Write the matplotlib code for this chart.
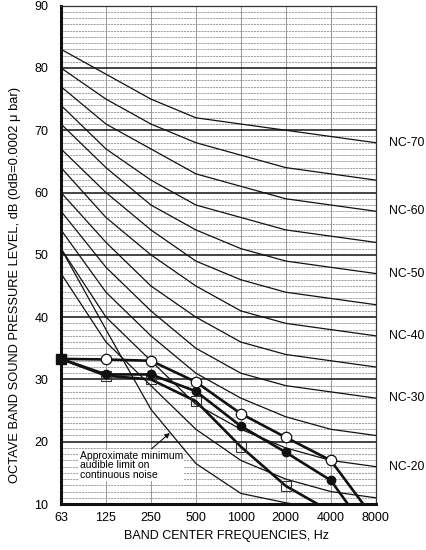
import matplotlib
matplotlib.use("Agg")
import matplotlib.pyplot as plt
import numpy as np

plt.rcParams['font.family'] = ['Liberation Sans', 'DejaVu Sans']

freqs = ["63", "125", "250", "500", "1000", "2000", "4000", "8000"]

nc_levels = [15, 20, 25, 30, 35, 40, 45, 50, 55, 60, 65, 70]
nc_curves = {
    15: [47, 36, 29, 22, 17, 14, 12, 11],
    20: [51, 40, 33, 26, 22, 19, 17, 16],
    25: [54, 44, 37, 31, 27, 24, 22, 21],
    30: [57, 48, 41, 35, 31, 29, 28, 27],
    35: [60, 52, 45, 40, 36, 34, 33, 32],
    40: [64, 56, 50, 45, 41, 39, 38, 37],
    45: [67, 60, 54, 49, 46, 44, 43, 42],
    50: [71, 64, 58, 54, 51, 49, 48, 47],
    55: [74, 67, 62, 58, 56, 54, 53, 52],
    60: [77, 71, 67, 63, 61, 59, 58, 57],
    65: [80, 75, 71, 68, 66, 64, 63, 62],
    70: [83, 79, 75, 72, 71, 70, 69, 68],
}
nc_labeled = [70, 60, 50, 40, 30, 20]

min_audible = [51, 38, 25.2, 16.5, 11.7, 10.2, 9.0, 9.0]

series_open_circle = [33.3, 33.2, 33.0, 29.6, 24.5, 20.7, 17.0, 7.3]
series_filled_circle = [33.3, 30.8, 30.8, 28.1, 22.5, 18.3, 13.8, 3.8]
series_open_square = [33.3, 30.6, 30.0, 26.5, 19.2, 12.9, 8.8, 4.0]

fig = plt.figure(figsize=(4.27, 5.5), dpi=100)
ax = fig.add_axes([0.1429, 0.0836, 0.7370, 0.9061])

x = np.arange(len(freqs))

# grid
for v in range(11, 90):
    if v % 10 != 0:
        ax.axhline(v, color='#909090', lw=0.6, ls=(0, (2.5, 1)), zorder=1)
for v in range(20, 90, 10):
    ax.axhline(v, color='#111111', lw=1.1, zorder=1.5)
for xi in x[1:-1]:
    ax.axvline(xi, color='#888888', lw=0.6, zorder=1.2)

for lev in nc_levels:
    ax.plot(x, nc_curves[lev], color='#111111', lw=0.9, zorder=2)

ax.plot(x, min_audible, color='#111111', lw=0.9, zorder=2)

ax.plot(x, series_open_square, color='#111111', lw=1.9, zorder=3)
ax.plot(x[1:], series_open_square[1:], ls='none', marker='s', ms=6.5,
        mfc='none', mec='#333333', mew=0.8, zorder=3.5)
ax.plot(x, series_filled_circle, color='#111111', lw=1.9, zorder=4,
        marker='o', ms=6, mfc='#111111', mec='#111111', markevery=list(range(1, 8)))
ax.plot(x, series_open_circle, color='#111111', lw=1.9, zorder=5,
        marker='o', ms=7.5, mfc='white', mec='#111111', mew=0.9, markevery=list(range(1, 8)))
ax.plot(x[:1], series_open_square[:1], ls='none', marker='s', ms=7,
        mfc='#111111', mec='#111111', zorder=6, clip_on=False)

ax.set_xlim(0, 7)
ax.set_ylim(10, 90)
ax.set_xticks(x)
ax.set_xticklabels(freqs, fontsize=9)
ax.set_yticks(range(10, 91, 10))
ax.tick_params(axis='y', labelsize=9, length=0, pad=9)
ax.tick_params(axis='x', length=0, pad=6)

for s in ['left', 'bottom']:
    ax.spines[s].set_linewidth(2.2)
    ax.spines[s].set_color('#111111')
for s in ['top', 'right']:
    ax.spines[s].set_linewidth(0.9)
    ax.spines[s].set_color('#333333')

for lev in nc_labeled:
    ax.text(7.3, nc_curves[lev][-1], f"NC-{lev}", fontsize=8.8, va='center', ha='left',
            clip_on=False)

fig.text(0.036, 0.482, "OCTAVE BAND SOUND PRESSURE LEVEL, dB (0dB=0.0002 \u03bc bar)",
         fontsize=9.3, rotation=90, ha='center', va='center')
fig.text(0.530, 0.025, "BAND CENTER FREQUENCIES, Hz", fontsize=9, ha='center', va='center')

ax.text(0.42, 16.2, "Approximate minimum\naudible limit on\ncontinuous noise",
        fontsize=7.5, ha='left', va='center', linespacing=0.98,
        bbox=dict(boxstyle='square,pad=0.1', fc='white', ec='none'), zorder=7)
ax.annotate("", xy=(2.42, 21.4), xytext=(2.02, 18.9),
            arrowprops=dict(arrowstyle='-|>', color='#111111', lw=0.8, shrinkA=0,
                            shrinkB=0, mutation_scale=7),
            zorder=7)

fig.savefig("out.png", dpi=100)
